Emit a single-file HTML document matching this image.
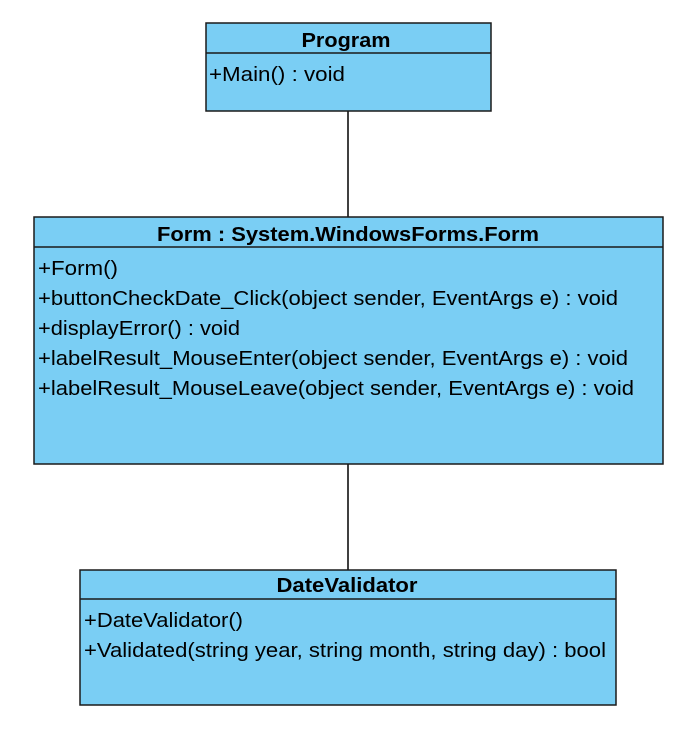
<!DOCTYPE html>
<html><head><style>html,body{margin:0;padding:0;background:#fff}svg{display:block}</style></head>
<body>
<svg width="692" height="742" xmlns="http://www.w3.org/2000/svg" font-family="Liberation Sans, Arial, sans-serif" font-size="20" fill="#000">
<line x1="348" y1="111" x2="348" y2="217" stroke="#000" stroke-width="1.5"/>
<line x1="348" y1="464" x2="348" y2="570" stroke="#000" stroke-width="1.5"/>
<g stroke="#1a1a1a" stroke-width="1.5" fill="#7ACEF4">
<rect x="206" y="23" width="285" height="88"/>
<line x1="206" y1="53" x2="491" y2="53"/>
<rect x="34" y="217" width="629" height="247"/>
<line x1="34" y1="247" x2="663" y2="247"/>
<rect x="80" y="570" width="536" height="135"/>
<line x1="80" y1="599" x2="616" y2="599"/>
</g>
<g font-weight="bold" text-anchor="middle" lengthAdjust="spacingAndGlyphs">
<text x="346" y="47" textLength="89" lengthAdjust="spacingAndGlyphs">Program</text>
<text x="348" y="241" textLength="382" lengthAdjust="spacingAndGlyphs">Form : System.WindowsForms.Form</text>
<text x="347" y="592" textLength="141" lengthAdjust="spacingAndGlyphs">DateValidator</text>
</g>
<text x="209" y="81" textLength="136" lengthAdjust="spacingAndGlyphs">+Main() : void</text>
<text x="38" y="275" textLength="80" lengthAdjust="spacingAndGlyphs">+Form()</text>
<text x="38" y="305" textLength="580" lengthAdjust="spacingAndGlyphs">+buttonCheckDate_Click(object sender, EventArgs e) : void</text>
<text x="38" y="335" textLength="202" lengthAdjust="spacingAndGlyphs">+displayError() : void</text>
<text x="38" y="365" textLength="590" lengthAdjust="spacingAndGlyphs">+labelResult_MouseEnter(object sender, EventArgs e) : void</text>
<text x="38" y="395" textLength="596" lengthAdjust="spacingAndGlyphs">+labelResult_MouseLeave(object sender, EventArgs e) : void</text>
<text x="84" y="627" textLength="159" lengthAdjust="spacingAndGlyphs">+DateValidator()</text>
<text x="84" y="657" textLength="522" lengthAdjust="spacingAndGlyphs">+Validated(string year, string month, string day) : bool</text>
</svg>
</body></html>
